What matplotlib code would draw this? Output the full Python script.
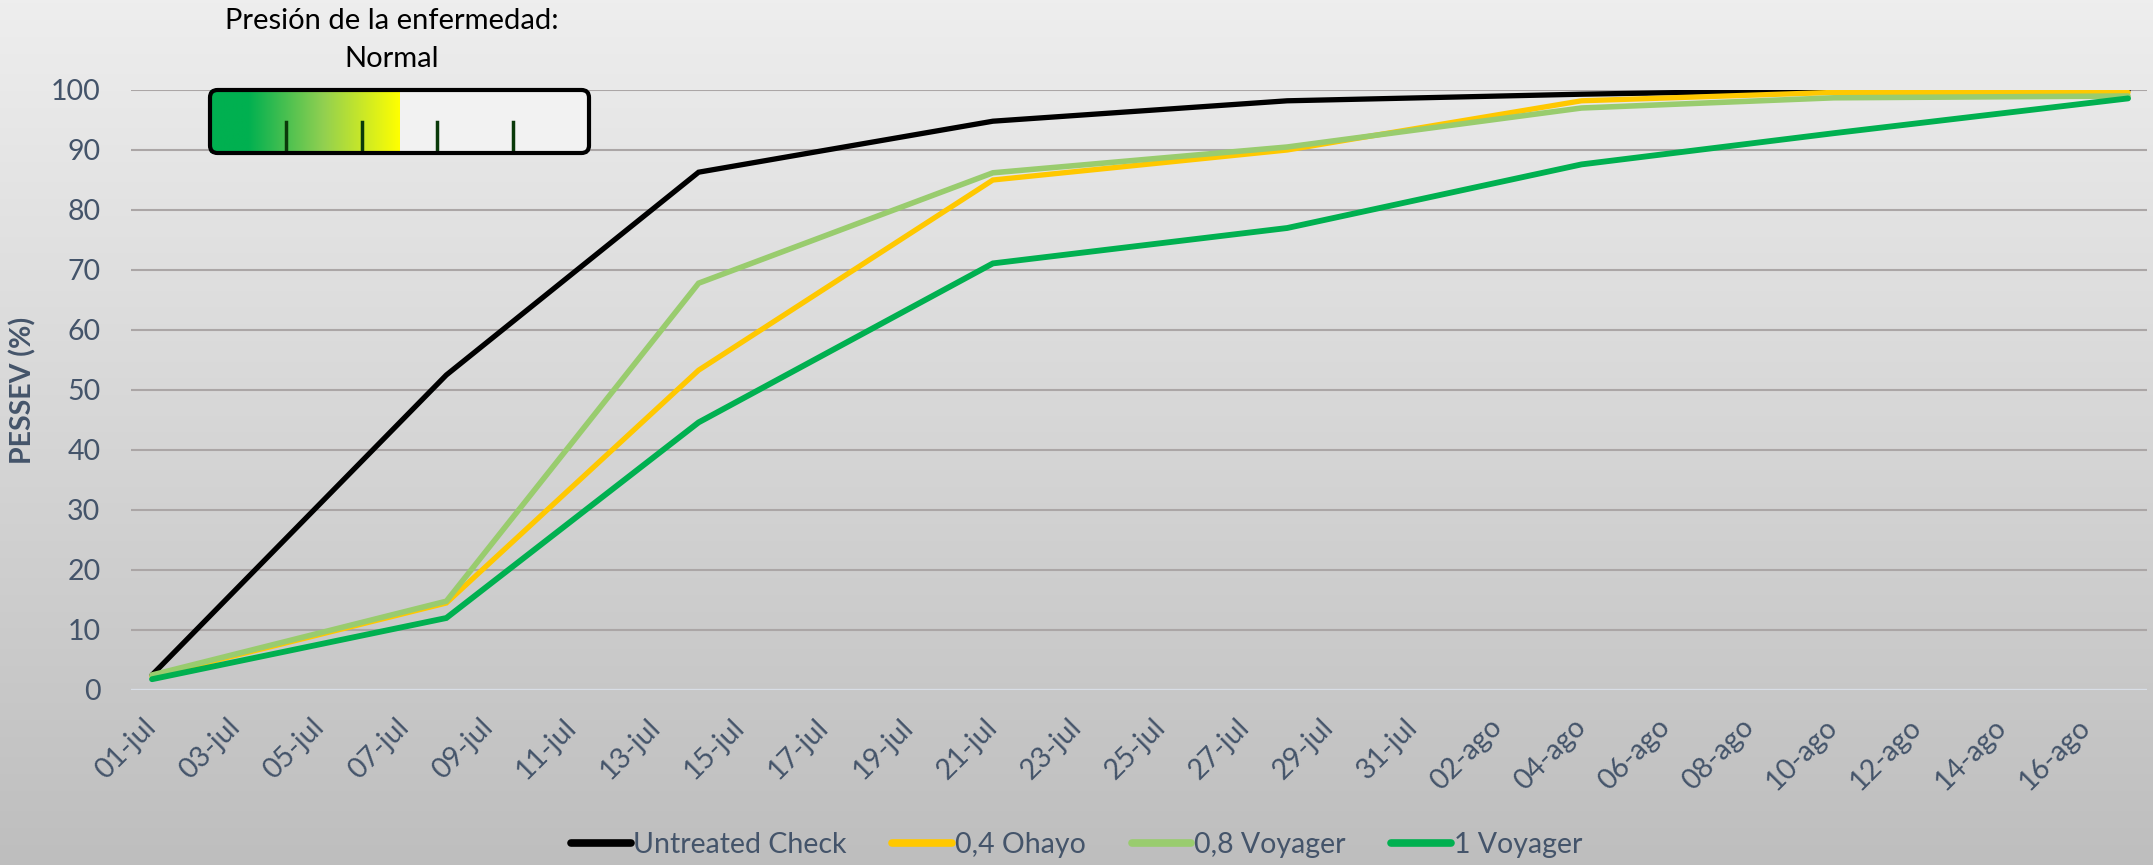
import numpy as np
import pandas as pd
import matplotlib
matplotlib.use('Agg')
import matplotlib.pyplot as plt
from matplotlib.colors import LinearSegmentedColormap
from matplotlib.patches import FancyBboxPatch

plt.rcParams['font.family'] = ['Lato', 'DejaVu Sans']

# sampling dates and PESSEV (%) readings
dates = ['2023-07-01', '2023-07-08', '2023-07-14', '2023-07-21',
         '2023-07-28', '2023-08-04', '2023-08-10', '2023-08-17']
untreated = [2.5, 52.5, 86.3, 94.8, 98.2, 99.3, 100.0, 100.0]
ohayo_04 = [2.3, 14.5, 53.3, 85.0, 90.0, 98.2, 99.6, 99.6]
voyager_08 = [2.5, 14.8, 67.8, 86.2, 90.5, 97.0, 98.7, 99.0]
voyager_1 = [1.8, 12.0, 44.6, 71.1, 77.0, 87.6, 92.8, 98.6]

series_names = ['Untreated Check', '0,4 Ohayo', '0,8 Voyager', '1 Voyager']
series_colors = ['#000000', '#FFC800', '#99CC6E', '#00B050']

tick_labels = ['01-jul', '03-jul', '05-jul', '07-jul', '09-jul', '11-jul',
               '13-jul', '15-jul', '17-jul', '19-jul', '21-jul', '23-jul',
               '25-jul', '27-jul', '29-jul', '31-jul', '02-ago', '04-ago',
               '06-ago', '08-ago', '10-ago', '12-ago', '14-ago', '16-ago']

start = pd.Timestamp(dates[0])
days = np.array([(pd.Timestamp(d) - start).days for d in dates])

txt = '#44546A'
fs = 20.5

fig = plt.figure(figsize=(21.53, 8.65), dpi=100)

# background gradient over whole figure
bg = fig.add_axes([0, 0, 1, 1], zorder=-10)
grad = np.linspace(0, 1, 256).reshape(-1, 1)
cm_bg = LinearSegmentedColormap.from_list('bg', ['#EEEEEE', '#BEBEBE'])
bg.imshow(grad, aspect='auto', cmap=cm_bg, extent=[0, 1, 0, 1], origin='upper')
bg.axis('off')

ax = fig.add_axes([131/2153, 175/865, (2147-131)/2153, 600/865])
ax.set_facecolor('none')

for vals, name, col, lw in zip([untreated, ohayo_04, voyager_08, voyager_1],
                               series_names, series_colors, [3.8, 3.8, 4.0, 4.2]):
    ax.plot(days, vals, color=col, lw=lw, label=name, solid_capstyle='round',
            solid_joinstyle='miter', zorder=3)

ax.set_xlim(-0.5, 47.45)
ax.set_ylim(0, 100)
ax.set_yticks(np.arange(0, 101, 10))
ax.set_xticks(np.arange(0, 48, 2))
ax.set_xticklabels(tick_labels, rotation=45, ha='right', va='center',
                   rotation_mode='anchor')
ax.tick_params(axis='both', length=0, labelsize=fs, colors=txt)
ax.tick_params(axis='y', pad=22)
ax.tick_params(axis='x', pad=24)
for lbl in ax.get_xticklabels():
    lbl.set_color(txt)

ax.grid(axis='y', color='#ABA6A6', lw=1.5, zorder=1)
ax.axhline(0, color='#D9DEE6', lw=2.5, zorder=2)
for s in ax.spines.values():
    s.set_visible(False)

ax.set_ylabel('PESSEV (%)', fontsize=fs, fontweight='bold', color=txt)
ax.yaxis.set_label_coords(-0.047, 0.5)

leg = fig.legend(loc='center', bbox_to_anchor=(0.5, 20/865), ncol=4, frameon=False,
                 fontsize=fs, handlelength=2.1, handletextpad=0.1, columnspacing=1.6)
for t in leg.get_texts():
    t.set_color(txt)
for h in leg.get_lines():
    h.set_linewidth(5.5)
    h.set_solid_capstyle('round')

# disease pressure gauge
fig.text(392/2153, 1 - 21/865, 'Presión de la enfermedad:', ha='center', va='center',
         fontsize=21, color='black')
fig.text(392/2153, 1 - 59/865, 'Normal', ha='center', va='center',
         fontsize=21, color='black')

g = fig.add_axes([210/2153, 1 - 153/865, 379/2153, 63/865], zorder=5)
g.set_xlim(0, 1)
g.set_ylim(0, 1)
g.axis('off')
cm_g = LinearSegmentedColormap.from_list(
    'g', [(0, '#00B050'), (0.2, '#00B050'), (0.6, '#92D050'), (1.0, '#FFFF00')])
g.add_patch(FancyBboxPatch((0, 0), 1, 1, boxstyle='round,pad=0,rounding_size=0.02',
                           facecolor='#F2F2F2', edgecolor='none',
                           mutation_aspect=6, transform=g.transAxes))
g.imshow(np.linspace(0, 1, 256).reshape(1, -1), cmap=cm_g, aspect='auto',
         extent=[0.0, 0.5, 0.0, 1.0], zorder=2)
for tx in [0.2, 0.4, 0.6, 0.8]:
    g.plot([tx, tx], [0.02, 0.5], color='#0A3A0A', lw=2.5, zorder=3)
g.add_patch(FancyBboxPatch((0, 0), 1, 1, boxstyle='round,pad=0,rounding_size=0.02',
                           facecolor='none', edgecolor='black', lw=3,
                           mutation_aspect=6, transform=g.transAxes, zorder=4,
                           clip_on=False))

fig.savefig('out.png', dpi=100)
